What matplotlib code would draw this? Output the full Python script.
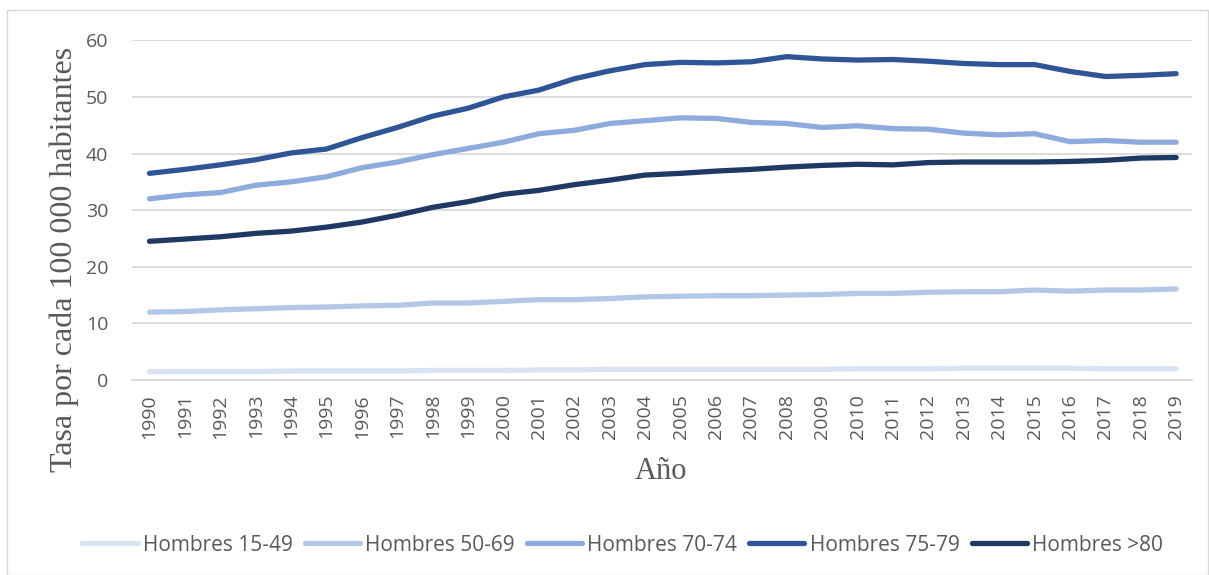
import matplotlib.pyplot as plt
from matplotlib.patches import Rectangle

years = list(range(1990, 2020))

h15_49 = [1.5, 1.5, 1.5, 1.5, 1.6, 1.6, 1.6, 1.6, 1.7, 1.7, 1.7, 1.8, 1.8, 1.9, 1.9,
          1.9, 1.9, 1.9, 1.9, 1.9, 2.0, 2.0, 2.0, 2.1, 2.1, 2.1, 2.1, 2.0, 2.0, 2.0]
h50_69 = [12.0, 12.1, 12.4, 12.6, 12.8, 12.9, 13.1, 13.2, 13.6, 13.6, 13.9, 14.2, 14.2, 14.4, 14.7,
          14.8, 14.9, 14.9, 15.0, 15.1, 15.3, 15.3, 15.5, 15.6, 15.6, 15.9, 15.7, 15.9, 15.9, 16.1]
h70_74 = [32.0, 32.7, 33.1, 34.4, 35.0, 35.9, 37.5, 38.5, 39.8, 40.9, 42.0, 43.5, 44.1, 45.3, 45.8,
          46.3, 46.2, 45.5, 45.3, 44.6, 44.9, 44.4, 44.3, 43.6, 43.3, 43.5, 42.1, 42.3, 42.0, 42.0]
h75_79 = [36.5, 37.2, 38.0, 38.9, 40.1, 40.8, 42.8, 44.6, 46.6, 48.0, 50.0, 51.2, 53.2, 54.6, 55.7,
          56.1, 56.0, 56.2, 57.1, 56.7, 56.5, 56.6, 56.3, 55.9, 55.7, 55.7, 54.5, 53.6, 53.8, 54.1]
h80 = [24.5, 24.9, 25.3, 25.9, 26.3, 27.0, 27.9, 29.1, 30.5, 31.5, 32.8, 33.5, 34.5, 35.3, 36.2,
       36.5, 36.9, 37.2, 37.6, 37.9, 38.1, 38.0, 38.4, 38.5, 38.5, 38.5, 38.6, 38.8, 39.2, 39.3]

series = [
    ("Hombres 15-49", h15_49, "#DAE3F3"),
    ("Hombres 50-69", h50_69, "#B4C7E7"),
    ("Hombres 70-74", h70_74, "#8FAADC"),
    ("Hombres 75-79", h75_79, "#2F5597"),
    ("Hombres >80", h80, "#203864"),
]

grey = "#595959"

fig = plt.figure(figsize=(12.09, 5.75), dpi=100)
ax = fig.add_axes([0.109, 0.339, 0.877, 0.591])

# thin outer border like the Excel chart area
fig.patches.append(Rectangle((0.006, 0.0), 0.993, 0.982, transform=fig.transFigure,
                             fill=False, edgecolor="#d9d9d9", linewidth=1))

for name, vals, col in series:
    ax.plot(years, vals, color=col, linewidth=3.8, solid_capstyle="round", label=name)

ax.set_ylim(0, 60)
ax.set_xlim(1989.5, 2019.45)
ax.set_yticks(range(0, 61, 10))
ax.set_xticks(years)
ax.set_xticklabels([str(y) for y in years], rotation=90)
ax.grid(axis="y", color="#d9d9d9", linewidth=1.3)
ax.set_axisbelow(True)
for s in ["top", "right", "left"]:
    ax.spines[s].set_visible(False)
ax.spines["bottom"].set_color("#d9d9d9")
ax.spines["bottom"].set_linewidth(1.3)
ax.tick_params(axis="both", length=0, colors=grey)
ax.tick_params(axis="y", pad=17, labelsize=14)
ax.tick_params(axis="x", pad=10, labelsize=14)
for t in ax.get_xticklabels() + ax.get_yticklabels():
    t.set_family("Open Sans")

ax.set_ylabel("Tasa por cada 100 000 habitantes", family="Liberation Serif",
              fontsize=23, color=grey)
ax.yaxis.set_label_coords(-0.05, 0.355)
fig.text(0.547, 0.18, "Año", family="Liberation Serif", fontsize=22,
         color=grey, ha="center", va="center")

fig.legend(loc="center", bbox_to_anchor=(0.515, 0.052), ncol=5, frameon=False,
           handlelength=2.65, handletextpad=0.25, columnspacing=0.58,
           prop={"family": "Open Sans", "size": 15}, labelcolor=grey)

fig.savefig("out.png", dpi=100)
